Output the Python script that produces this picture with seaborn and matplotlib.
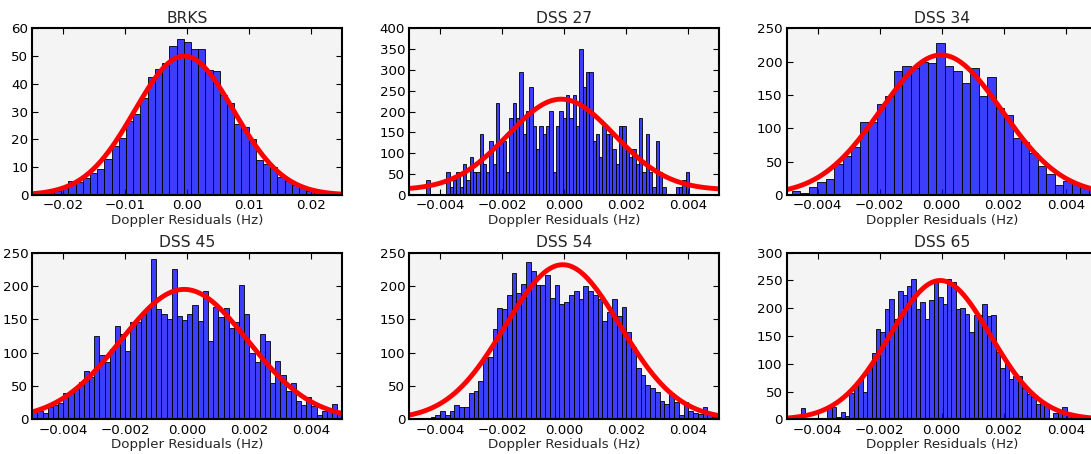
import numpy as np
import pandas as pd
import matplotlib
matplotlib.use("Agg")
import matplotlib.pyplot as plt
import seaborn as sns
from matplotlib.ticker import MultipleLocator, FixedLocator

# ---------------- data ----------------
titles = ["BRKS", "DSS 27", "DSS 34", "DSS 45", "DSS 54", "DSS 65"]

brks_heights = [0.5, 0.5, 1, 1.5, 2.5, 5, 4.5, 6, 8, 9.5, 13, 17.5, 20.5, 26.5, 29, 35,
                42.5, 45.5, 47.5, 53.5, 56, 55, 52.5, 52.5, 45, 44.5, 36, 33, 25.5, 24.5,
                20, 12.5, 11, 10, 6.5, 5, 3.5, 3, 1.5, 1, 0.5, 0.5, 0.3]
dss27_heights = [37, 0, 0, 0, 0, 0, 55, 18, 37, 55, 18, 74, 37, 92, 55, 55, 147, 74, 55, 129,
                 74, 221, 129, 129, 55, 184, 221, 184, 294, 147, 202, 258, 166, 110, 166, 147,
                 166, 202, 55, 166, 202, 184, 239, 184, 239, 166, 350, 258, 294, 294, 129, 147,
                 92, 166, 147, 147, 110, 74, 166, 166, 110, 92, 110, 74, 184, 55, 147, 55, 18,
                 129, 55, 18, 0, 0, 0, 18, 18, 37, 55]
dss34_heights = [5.5, 3.5, 11.5, 19, 24, 46, 59, 72, 110, 110, 136, 148, 186, 193, 191, 200,
                 198, 228, 193, 186, 168, 191, 148, 177, 130, 120, 85, 80, 63, 44, 31, 15, 21,
                 17, 12, 8]
dss45_heights = [11, 13, 10, 18, 21, 24, 40, 39, 47, 56, 73, 63, 125, 97, 86, 106, 140, 128,
                 103, 146, 146, 158, 165, 240, 165, 158, 150, 225, 155, 149, 158, 171, 148, 192,
                 118, 168, 153, 167, 137, 146, 201, 158, 100, 86, 128, 118, 54, 88, 66, 43, 55,
                 27, 21, 34, 20, 6, 12, 13, 23, 12]
dss54_heights = [0.5, 1, 1, 2, 4, 7, 12, 6, 12, 22, 18, 19, 39, 43, 58, 92, 94, 135, 167, 165,
                 186, 220, 190, 203, 236, 223, 202, 201, 217, 182, 202, 173, 176, 187, 193, 181,
                 200, 192, 186, 181, 147, 161, 180, 155, 168, 131, 108, 77, 67, 51, 47, 41, 28,
                 23, 40, 26, 7, 26, 12, 10, 8, 18, 6, 3, 2]
dss65_heights = [20, 0, 0, 0, 0, 0, 20, 22, 5, 14, 6, 48, 60, 73, 50, 95, 120, 162, 158, 198,
                 216, 181, 231, 223, 240, 252, 198, 212, 180, 215, 250, 220, 207, 252, 248, 198,
                 201, 190, 157, 187, 187, 208, 186, 187, 122, 93, 101, 73, 78, 78, 57, 46, 40,
                 28, 30, 27, 3, 12, 14, 23, 10, 8, 5, 3, 3, 7]
heights = [brks_heights, dss27_heights, dss34_heights, dss45_heights, dss54_heights, dss65_heights]

# histogram bin layout (first edge, bin width)
bin_start = [-0.025, -0.00445, -0.00484, -0.005, -0.00493, -0.00455]
bin_width = [0.001163, 0.0001072, 0.000274, 0.0001667, 0.000154, 0.000143]

# fitted gaussian curves: amplitude, mean, sigma, offset
fit_amp = [50, 218, 210, 195, 232, 250]
fit_mu = [-0.0005, -0.0001, -0.00002, -0.0001, -0.00005, -0.00005]
fit_sigma = [0.0080, 0.00172, 0.00195, 0.00205, 0.00185, 0.00162]
fit_off = [0, 12, 0, 0, 0, 0]

xlims = [(-0.025, 0.025)] + [(-0.005, 0.005)] * 5
xticks_brks = [-0.02, -0.01, 0.0, 0.01, 0.02]
xticks_dss = [-0.004, -0.002, 0.0, 0.002, 0.004]
ymax = [60, 400, 250, 250, 250, 300]
ystep = [10, 50, 50, 50, 50, 50]
xlabel = "Doppler Residuals (Hz)"

# ---------------- style ----------------
sns.set_style("ticks")
plt.rcParams.update({
    "font.family": ["DejaVu Sans"],
    "axes.facecolor": "#f4f4f4",
    "axes.edgecolor": "black",
    "axes.linewidth": 1.5,
    "xtick.direction": "in",
    "ytick.direction": "in",
    "xtick.top": True,
    "ytick.right": True,
    "xtick.major.size": 4,
    "ytick.major.size": 4,
    "xtick.major.width": 0.8,
    "ytick.major.width": 0.8,
    "xtick.labelsize": 9.6,
    "ytick.labelsize": 9.6,
    "xtick.color": "black",
    "ytick.color": "black",
})

W, H = 1091, 454
fig = plt.figure(figsize=(W / 100, H / 100), dpi=100)
fig.patch.set_facecolor("white")

col_left = [32.3, 409.3, 786.7]
row_top = [28.3, 252.7]
ax_w, ax_h = 310.0, 166.7

for k in range(6):
    r, c = divmod(k, 3)
    rect = [col_left[c] / W, 1 - (row_top[r] + ax_h) / H, ax_w / W, ax_h / H]
    ax = fig.add_axes(rect)

    n = len(heights[k])
    edges = bin_start[k] + bin_width[k] * np.arange(n + 1)
    centers = 0.5 * (edges[:-1] + edges[1:])
    df = pd.DataFrame({"resid": centers, "density": heights[k]})
    sns.histplot(data=df, x="resid", weights="density", bins=[float(e) for e in edges], ax=ax,
                 color="#0000ff", alpha=0.75, edgecolor="black", linewidth=0.6)

    xs = np.linspace(xlims[k][0], xlims[k][1], 500)
    ys = fit_amp[k] * np.exp(-0.5 * ((xs - fit_mu[k]) / fit_sigma[k]) ** 2) + fit_off[k]
    sns.lineplot(x=xs, y=ys, ax=ax, color="red", linewidth=3.5)

    ax.set_xlim(*xlims[k])
    ax.set_ylim(0, ymax[k])
    ax.yaxis.set_major_locator(MultipleLocator(ystep[k]))
    ticks = xticks_brks if k == 0 else xticks_dss
    ax.xaxis.set_major_locator(FixedLocator(ticks))
    fmt = "{:.2f}" if k == 0 else "{:.3f}"
    ax.set_xticklabels([fmt.format(t).replace("-", "\u2212") if abs(t) > 1e-12 else fmt.format(0.0)
                        for t in ticks])
    ax.set_ylabel("")
    ax.set_xlabel(xlabel, fontsize=9.6, labelpad=1)
    ax.set_title(titles[k], fontsize=11.2, pad=4)
    for s in ax.spines.values():
        s.set_visible(True)
        s.set_linewidth(1.5)
    ax.tick_params(axis="both", which="both", top=True, right=True, pad=3)

fig.savefig("out.png", dpi=100)
